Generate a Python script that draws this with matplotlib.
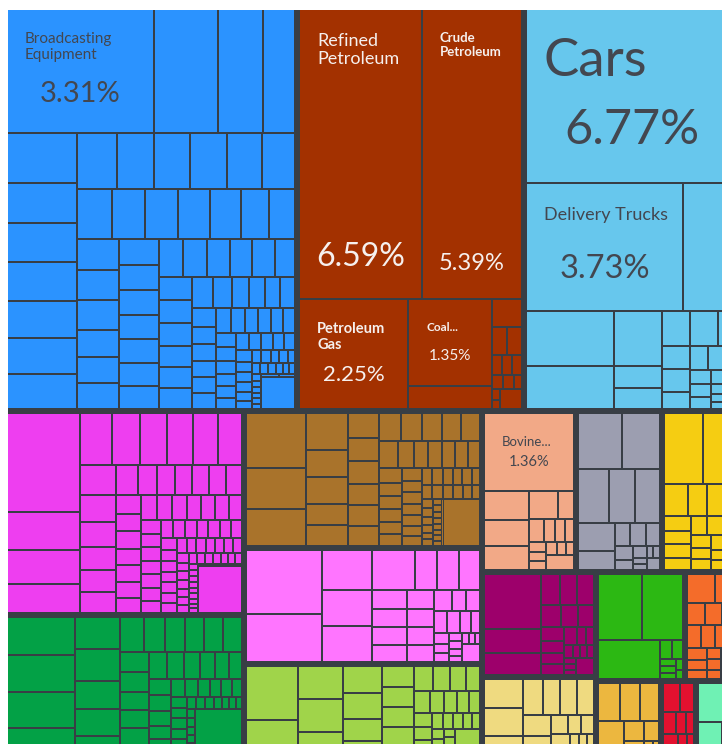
import matplotlib
matplotlib.use("Agg")
import matplotlib.pyplot as plt
from matplotlib.patches import Rectangle

# share of exports (%) per product, grouped by HS section, in draw order
machines = [3.31, 1.45, 1.02, 0.73,
            0.63, 0.51, 0.50, 0.50, 0.47, 0.46, 0.44,
            0.41, 0.38, 0.37, 0.37, 0.36, 0.34,
            0.32, 0.31, 0.30, 0.30, 0.28, 0.26, 0.24,
            0.24, 0.235, 0.23, 0.21, 0.20, 0.20,
            0.195, 0.19, 0.185, 0.18, 0.18, 0.175, 0.17,
            0.17, 0.165, 0.165, 0.16, 0.16, 0.145,
            0.14, 0.14, 0.135, 0.13, 0.13, 0.125,
            0.12, 0.11, 0.10, 0.09, 0.09, 0.085,
            0.08, 0.077, 0.075, 0.072, 0.07, 0.07,
            0.065, 0.064, 0.062, 0.058, 0.056,
            0.054, 0.052, 0.05, 0.048, 0.046, 0.044,
            0.042, 0.04, 0.039, 0.037, 0.036,
            0.034, 0.032, 0.03, 0.028, 0.027, 0.025,
            0.024, 0.023, 0.022, 0.021, 0.02,
            0.018, 0.017, 0.016, 0.015, 0.015,
            0.012, 0.012, 0.011, 0.011, 0.01, 0.01, 0.01, 0.009, 0.009, 0.008,
            0.2]
mineral = [6.59, 5.39, 2.25, 1.35, 0.36, 0.16, 0.08, 0.078, 0.04, 0.038,
           0.036, 0.03, 0.028, 0.02, 0.018, 0.015, 0.08]
transport = [6.77, 3.73, 1.31, 0.90, 0.70, 0.48, 0.19, 0.185, 0.18, 0.175,
             0.13, 0.12, 0.12, 0.09, 0.08, 0.07, 0.06, 0.055, 0.05, 0.045,
             0.04, 0.035, 0.03, 0.025, 0.02, 0.02, 0.015, 0.015]
chemical = [1.33, 0.52, 0.45, 0.40,
            0.315, 0.27, 0.265, 0.25, 0.245, 0.24,
            0.2, 0.187, 0.173, 0.155, 0.15, 0.145,
            0.12, 0.108, 0.105, 0.098, 0.096, 0.094, 0.092,
            0.085, 0.082, 0.08, 0.078, 0.076, 0.074, 0.072,
            0.07, 0.068, 0.066, 0.065, 0.064, 0.062, 0.06,
            0.052, 0.051, 0.05, 0.05, 0.049, 0.048, 0.047,
            0.043, 0.042, 0.041, 0.041, 0.04, 0.04, 0.039,
            0.034, 0.033, 0.032, 0.032, 0.031, 0.031, 0.03,
            0.028, 0.027, 0.027, 0.026, 0.026, 0.025, 0.025,
            0.021, 0.02, 0.02, 0.02, 0.019, 0.019, 0.018,
            0.016, 0.015, 0.015, 0.015, 0.014, 0.014, 0.013,
            0.011, 0.01, 0.01, 0.01, 0.009, 0.009,
            0.008, 0.008, 0.008, 0.007, 0.007, 0.007,
            0.39]
textiles = [0.47, 0.46, 0.45, 0.44,
            0.27, 0.265, 0.235, 0.23, 0.225,
            0.156, 0.132, 0.13, 0.128, 0.124, 0.122,
            0.11, 0.105, 0.1, 0.098, 0.095,
            0.092, 0.088, 0.085, 0.08, 0.076,
            0.07, 0.068, 0.066, 0.064, 0.062,
            0.055, 0.05, 0.048, 0.046, 0.044,
            0.04, 0.038, 0.036, 0.035,
            0.031, 0.03, 0.03, 0.029, 0.028,
            0.022, 0.021, 0.02, 0.02, 0.019, 0.018,
            0.016, 0.015, 0.014, 0.013, 0.012, 0.012, 0.011, 0.01, 0.01, 0.009,
            0.48]
metals = [0.63, 0.46, 0.42,
          0.29, 0.22, 0.21, 0.17, 0.16,
          0.155, 0.14, 0.135, 0.13, 0.128, 0.12,
          0.115, 0.11, 0.105, 0.103, 0.1, 0.098,
          0.08, 0.075, 0.072, 0.07, 0.066, 0.064,
          0.062, 0.058, 0.057, 0.054, 0.052, 0.05,
          0.047, 0.045, 0.044, 0.042, 0.04, 0.038,
          0.036, 0.035, 0.034, 0.033, 0.032, 0.031,
          0.028, 0.027, 0.026, 0.026, 0.025, 0.024,
          0.021, 0.02, 0.019, 0.018, 0.017,
          0.013, 0.013, 0.012, 0.012, 0.011, 0.011, 0.01,
          0.01, 0.009, 0.009, 0.008,
          0.33]
plastics = [0.94, 0.69,
            0.39, 0.35, 0.345,
            0.325, 0.175, 0.17, 0.16,
            0.125, 0.12, 0.118, 0.113,
            0.1, 0.096, 0.094, 0.088,
            0.075, 0.06, 0.058,
            0.055, 0.05, 0.047,
            0.037, 0.032, 0.028,
            0.024, 0.022, 0.02, 0.018, 0.016, 0.015, 0.013, 0.012,
            0.06]
foodstuffs = [0.54, 0.42,
              0.28, 0.27, 0.26,
              0.2, 0.19, 0.165, 0.16,
              0.13, 0.125, 0.12, 0.115,
              0.11, 0.09, 0.08, 0.075,
              0.07, 0.065, 0.06, 0.055,
              0.05, 0.048, 0.045, 0.042, 0.04,
              0.036, 0.034, 0.032, 0.03, 0.028,
              0.025, 0.023, 0.021, 0.02, 0.018, 0.016, 0.015, 0.013, 0.012, 0.011,
              0.16]
animal = [1.36, 0.25, 0.225, 0.21, 0.16, 0.09, 0.07, 0.045, 0.045, 0.04,
          0.036, 0.03, 0.03, 0.028, 0.025, 0.02, 0.08]
misc = [0.48, 0.41, 0.33, 0.28, 0.26, 0.2, 0.14, 0.072, 0.07, 0.065,
        0.05, 0.035, 0.03, 0.018, 0.015, 0.015, 0.015, 0.03]
vegetable = [0.53, 0.48, 0.15, 0.11, 0.1, 0.09, 0.08, 0.07, 0.07, 0.065,
             0.06, 0.058, 0.055, 0.05, 0.045, 0.042, 0.04, 0.035, 0.032, 0.03,
             0.022, 0.02]
instruments = [0.62, 0.26, 0.25, 0.11, 0.105, 0.1, 0.09, 0.075, 0.07, 0.06,
               0.052, 0.05, 0.048, 0.045, 0.03, 0.025, 0.022, 0.02, 0.018, 0.016,
               0.015, 0.014, 0.012, 0.06]
paper = [0.22, 0.21, 0.2, 0.14, 0.125, 0.12, 0.115, 0.11, 0.08, 0.07, 0.06,
         0.05, 0.045, 0.04, 0.035, 0.03, 0.025, 0.022, 0.02, 0.018, 0.015, 0.03]
footwear = [0.57, 0.54, 0.49, 0.045, 0.04, 0.025, 0.02, 0.02, 0.015, 0.012]
stone = [0.16, 0.13, 0.08, 0.075, 0.07, 0.065, 0.06, 0.055, 0.05, 0.045, 0.04,
         0.035, 0.03, 0.03, 0.025, 0.02, 0.02, 0.015, 0.015, 0.012, 0.01, 0.01]
byproducts = [0.17, 0.15, 0.14, 0.13, 0.09, 0.08, 0.06, 0.05, 0.04, 0.03, 0.02, 0.015]
wood = [0.1, 0.09, 0.06, 0.045, 0.04, 0.035, 0.03, 0.028, 0.025, 0.02, 0.018,
        0.015, 0.012, 0.01]
hides = [0.3, 0.12, 0.08, 0.05, 0.03, 0.02, 0.02]

sections = ["Machines", "Mineral Products", "Transportation", "Chemical Products",
            "Textiles", "Metals", "Plastics and Rubbers", "Foodstuffs",
            "Animal Products", "Miscellaneous", "Vegetable Products", "Instruments",
            "Paper Goods", "Footwear and Headwear", "Stone and Glass",
            "Animal and Vegetable Bi-Products", "Wood Products", "Animal Hides"]
section_values = [machines, mineral, transport, chemical, textiles, metals, plastics,
                  foodstuffs, animal, misc, vegetable, instruments, paper, footwear,
                  stone, byproducts, wood, hides]
section_colors = ["#2b93ff", "#a33100", "#67c7ed", "#ee3ef0", "#03a146", "#a9732b",
                  "#ff75ff", "#a0d44a", "#f2a987", "#9c9eb0", "#f5cd12", "#9d006b",
                  "#efda80", "#2cb813", "#f46c2a", "#ecb73f", "#e3112f", "#6ff1b4"]

# named products: (section, index in section) -> title
product_names = {
    ("Machines", 0): "Broadcasting\nEquipment",
    ("Mineral Products", 0): "Refined\nPetroleum",
    ("Mineral Products", 1): "Crude\nPetroleum",
    ("Mineral Products", 2): "Petroleum\nGas",
    ("Mineral Products", 3): "Coal...",
    ("Transportation", 0): "Cars",
    ("Transportation", 1): "Delivery Trucks",
    ("Animal Products", 0): "Bovine...",
}
# title size, percent size, title weight
label_style = {
    ("Machines", 0): (11, 21, "normal"),
    ("Mineral Products", 0): (13, 23, "normal"),
    ("Mineral Products", 1): (9.5, 17, "bold"),
    ("Mineral Products", 2): (10.5, 16, "bold"),
    ("Mineral Products", 3): (8.5, 11, "bold"),
    ("Transportation", 0): (38, 35, "normal"),
    ("Transportation", 1): (13, 23.5, "normal"),
    ("Animal Products", 0): (9.5, 10.5, "normal"),
}
light_text_sections = ["Mineral Products"]

PHI = (1 + 5 ** 0.5) / 2
FRAME = (8, 10, 738, 763)   # treemap frame in pixel units
BG = "#383e45"


def squarify(values, x0, y0, x1, y1, ratio=PHI):
    # same row logic as d3.treemapSquarify
    n = len(values)
    rects = [None] * n
    value = float(sum(values))
    i0 = i1 = 0
    while i0 < n:
        dx, dy = x1 - x0, y1 - y0
        sum_v = values[i1]
        i1 += 1
        min_v = max_v = sum_v
        alpha = max(dy / dx, dx / dy) / (value * ratio)
        beta = sum_v * sum_v * alpha
        min_ratio = max(max_v / beta, beta / min_v)
        while i1 < n:
            nv = values[i1]
            s = sum_v + nv
            mn, mx = min(min_v, nv), max(max_v, nv)
            beta = s * s * alpha
            nr = max(mx / beta, beta / mn)
            if nr > min_ratio:
                break
            sum_v, min_v, max_v, min_ratio = s, mn, mx, nr
            i1 += 1
        if dx < dy:
            yb = y0 + dy * sum_v / value
            x = x0
            for i in range(i0, i1):
                w = dx * values[i] / sum_v
                rects[i] = (x, y0, x + w, yb)
                x += w
            y0 = yb
        else:
            xr = x0 + dx * sum_v / value
            y = y0
            for i in range(i0, i1):
                h = dy * values[i] / sum_v
                rects[i] = (x0, y, xr, y + h)
                y += h
            x0 = xr
        value -= sum_v
        i0 = i1
    return rects


def inset(r, pad):
    # shrink a rect, but keep sides that sit on the outer frame
    x0, y0, x1, y1 = r
    fx0, fy0, fx1, fy1 = FRAME
    return (x0 if abs(x0 - fx0) < 0.5 else x0 + pad,
            y0 if abs(y0 - fy0) < 0.5 else y0 + pad,
            x1 if abs(x1 - fx1) < 0.5 else x1 - pad,
            y1 if abs(y1 - fy1) < 0.5 else y1 - pad)


plt.rcParams["font.family"] = ["Lato", "DejaVu Sans"]
fig = plt.figure(figsize=(7.22, 7.44), dpi=100)
ax = fig.add_axes([0, 0, 1, 1])
ax.set_xlim(0, 722)
ax.set_ylim(744, 0)
ax.axis("off")

ax.add_patch(Rectangle((FRAME[0], FRAME[1]), FRAME[2] - FRAME[0], FRAME[3] - FRAME[1],
                       facecolor=BG, edgecolor="none"))

totals = [sum(v) for v in section_values]
group_rects = squarify(totals, *FRAME)

for name, vals, color, grect in zip(sections, section_values, section_colors, group_rects):
    g = inset(grect, 2)
    item_rects = squarify(vals, *g)
    for idx, (v, r) in enumerate(zip(vals, item_rects)):
        x0, y0, x1, y1 = inset(r, 1)
        ax.add_patch(Rectangle((x0, y0), x1 - x0, y1 - y0, facecolor=color,
                               edgecolor="none"))
        key = (name, idx)
        if key in product_names:
            tsize, psize, weight = label_style[key]
            tc = "#f6f0ee" if name in light_text_sections else "#434750"
            tem = tsize * 100 / 72
            ax.text(x0 + 17, y0 + 20 + 0.16 * tem, product_names[key], fontsize=tsize,
                    fontweight=weight, color=tc, ha="left", va="top",
                    linespacing=1.15)
            em = psize * 100 / 72
            ax.text((x0 + x1) / 2, y1 - (18 + 0.7 * em), f"{v:.2f}%",
                    fontsize=psize, color=tc, ha="center", va="center")

fig.savefig("out.png", dpi=100, facecolor="white")
